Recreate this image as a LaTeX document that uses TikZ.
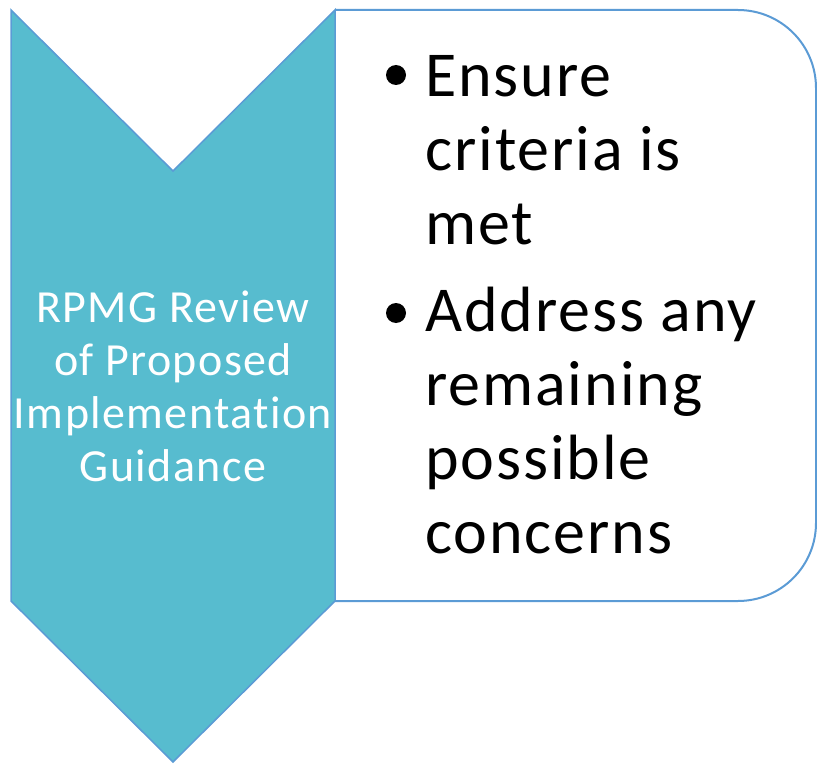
\documentclass[tikz,border=0pt]{standalone}
\usepackage{fontspec}
\setmainfont{Carlito}[LetterSpace=3,RawFeature=-liga]
\definecolor{chevfill}{HTML}{57BCCF}
\definecolor{edgeblue}{HTML}{5B9BD5}
\tikzset{
  chevron/.style={draw=edgeblue,line width=1.5pt,fill=chevfill,line join=miter},
  listbox/.style={draw=edgeblue,line width=2pt,fill=white,rounded corners=78pt},
  bulletdot/.style={circle,fill=black,inner sep=0pt,minimum size=20pt},
  itemtext/.style={anchor=north west,inner sep=0pt,align=left,
    font=\fontsize{64}{74}\selectfont}
}
\begin{document}
\begin{tikzpicture}[x=1pt,y=-1pt]
\useasboundingbox (0,0) rectangle (817,765);
\draw[listbox] (335,10) -- (816,10) -- (816,601) -- (335,601);
\draw[chevron] (11,10) -- (173,171) -- (335,10) -- (335,601)
  -- (173,762) -- (11,601) -- cycle;
\node[text=white,align=center,inner sep=0pt,
  font=\fontsize{46}{53}\selectfont] (step) at (173,386)
  {RPMG Review\\of Proposed\\Implementation\\Guidance};
\node[bulletdot] (dot1) at (396,75) {};
\node[itemtext] (item1) at (425,55) {Ensure\\criteria is\\met};
\node[bulletdot] (dot2) at (396,313) {};
\node[itemtext] (item2) at (425,287) {Address any\\remaining\\possible\\concerns};
\end{tikzpicture}
\end{document}
